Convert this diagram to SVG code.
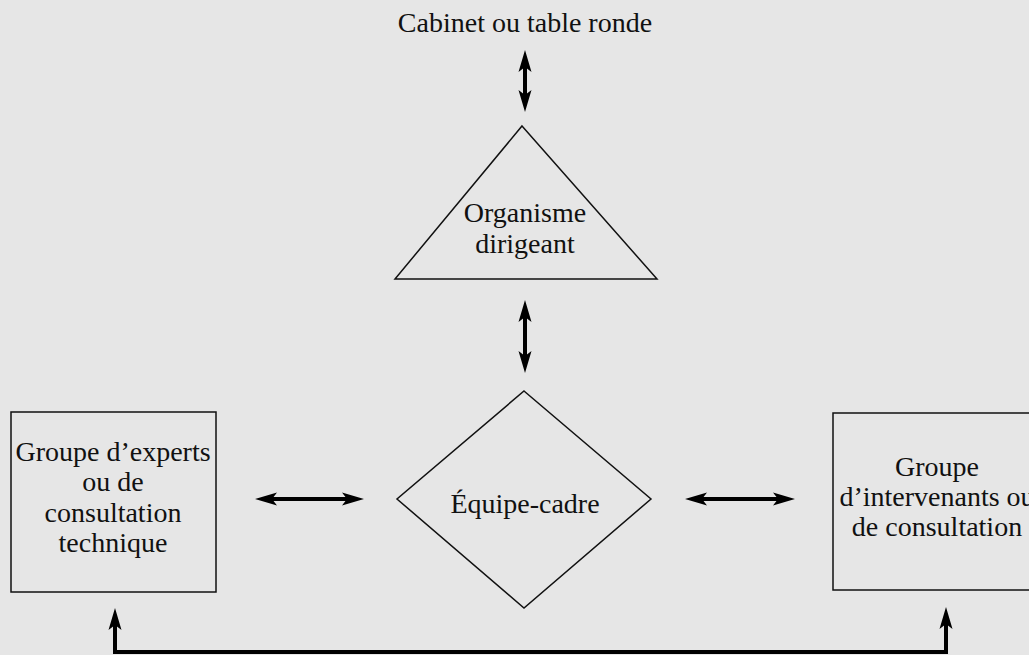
<svg xmlns="http://www.w3.org/2000/svg" width="1029" height="655" viewBox="0 0 1029 655">
<style>
text{font-family:"Liberation Serif","Times New Roman",serif;font-size:28px;fill:#111;text-anchor:middle}
.shape{fill:none;stroke:#111;stroke-width:1.5}
.conn{fill:none;stroke:#000;stroke-width:4}
</style>
<defs>
<marker id="ah" viewBox="0 0 22 14" refX="5" refY="7" markerWidth="22" markerHeight="14" markerUnits="userSpaceOnUse" orient="auto-start-reverse">
<path d="M0,0.5 L22,7 L0,13.5 L5,7 Z" fill="#000"/>
</marker>
</defs>
<rect width="1029" height="655" fill="#e6e6e6"/>
<g id="cabinet"><text x="525" y="32">Cabinet ou table ronde</text></g>
<g id="organisme">
<polygon class="shape" points="522,126 657,279 395,279"/>
<text x="525" y="222">Organisme</text>
<text x="525" y="253">dirigeant</text>
</g>
<g id="equipe">
<polygon class="shape" points="524,391 651,499 524,608 397,499"/>
<text x="525" y="513">Équipe-cadre</text>
</g>
<g id="experts">
<rect class="shape" x="11" y="412" width="205" height="180"/>
<text x="113" y="461">Groupe d’experts</text>
<text x="113" y="491">ou de</text>
<text x="113" y="522">consultation</text>
<text x="113" y="552">technique</text>
</g>
<g id="intervenants">
<rect class="shape" x="833" y="413" width="220" height="177"/>
<text x="937" y="476">Groupe</text>
<text x="937" y="506">d’intervenants ou</text>
<text x="937" y="536">de consultation</text>
</g>
<g id="connectors">
<line class="conn" x1="525" y1="67" x2="525" y2="95" marker-start="url(#ah)" marker-end="url(#ah)"/>
<line class="conn" x1="525" y1="317" x2="525" y2="356" marker-start="url(#ah)" marker-end="url(#ah)"/>
<line class="conn" x1="272" y1="499" x2="347" y2="499" marker-start="url(#ah)" marker-end="url(#ah)"/>
<line class="conn" x1="702" y1="499" x2="778" y2="499" marker-start="url(#ah)" marker-end="url(#ah)"/>
<path class="conn" d="M115,625 L115,652 L946,652 L946,624" marker-start="url(#ah)" marker-end="url(#ah)"/>
</g>
</svg>
